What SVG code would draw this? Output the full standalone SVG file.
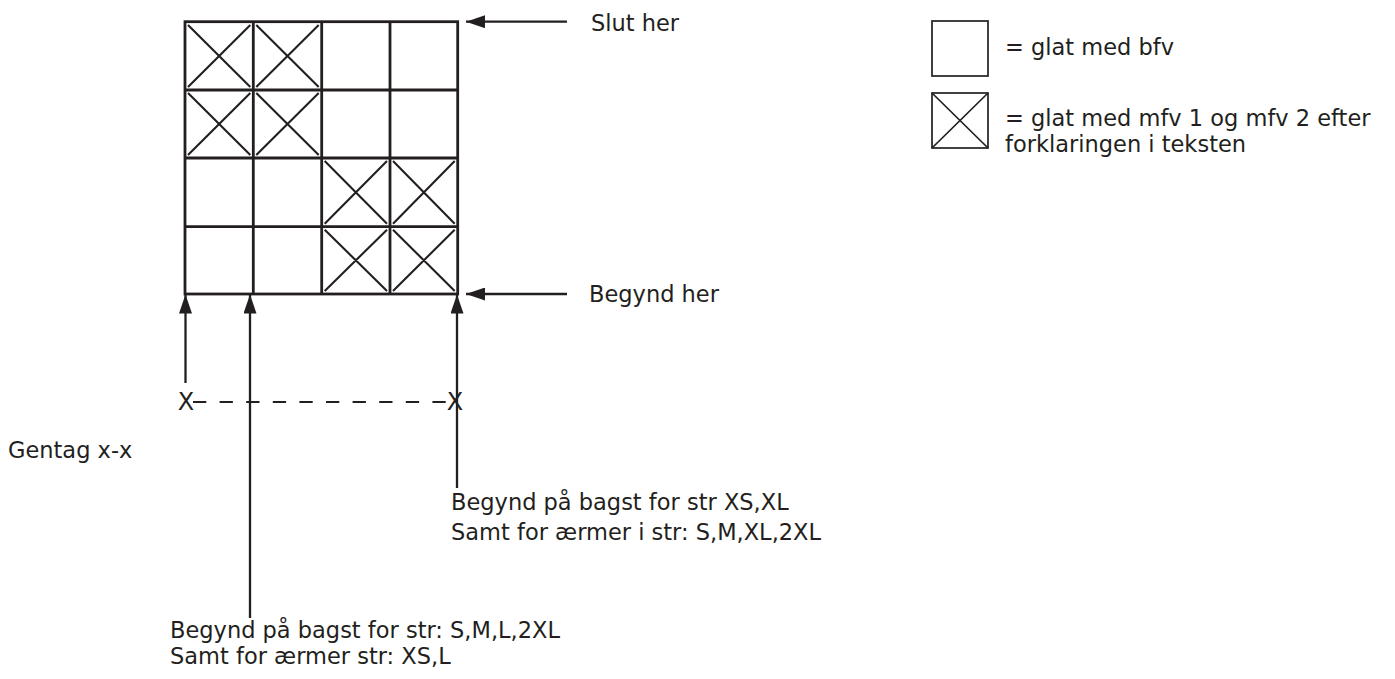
<svg xmlns="http://www.w3.org/2000/svg" width="1395" height="679" viewBox="0 0 1395 679">
<style>
.t{font-family:"DejaVu Sans",sans-serif;font-size:22.5px;fill:#231f20}
.g{stroke:#231f20;stroke-width:2.8;fill:none}
.x{stroke:#231f20;stroke-width:2.1}
.a{stroke:#231f20;stroke-width:2.3;fill:none;marker-end:url(#ah)}
.lg{stroke:#231f20;stroke-width:1.7;fill:none}
</style>
<defs>
<marker id="ah" markerUnits="userSpaceOnUse" markerWidth="19" markerHeight="13" refX="19" refY="6.5" orient="auto" viewBox="0 0 19 13">
<path d="M0,0 L19,6.5 L0,13 Z" fill="#231f20"/>
</marker>
</defs>
<rect width="1395" height="679" fill="#ffffff"/>
<g id="grid">
<rect class="g" x="185" y="21.7" width="272.7" height="272.3"/>
<line class="g" x1="253.3" y1="21.7" x2="253.3" y2="294"/>
<line class="g" x1="321.7" y1="21.7" x2="321.7" y2="294"/>
<line class="g" x1="390" y1="21.7" x2="390" y2="294"/>
<line class="g" x1="185" y1="90" x2="457.7" y2="90"/>
<line class="g" x1="185" y1="158" x2="457.7" y2="158"/>
<line class="g" x1="185" y1="226.7" x2="457.7" y2="226.7"/>
<path class="x" d="M188,25 L250.3,87 M250.3,25 L188,87 M256.3,25 L318.7,87 M318.7,25 L256.3,87 M188,93 L250.3,155 M250.3,93 L188,155 M256.3,93 L318.7,155 M318.7,93 L256.3,155 M324.7,161 L387,223.7 M387,161 L324.7,223.7 M393,161 L454.7,223.7 M454.7,161 L393,223.7 M324.7,229.7 L387,291 M387,229.7 L324.7,291 M393,229.7 L454.7,291 M454.7,229.7 L393,291"/>
</g>
<g id="connectors">
<line class="a" x1="567" y1="21.7" x2="466" y2="21.7"/>
<line class="a" x1="567" y1="294" x2="466" y2="294"/>
<line class="a" x1="185.5" y1="383" x2="185.5" y2="294.5"/>
<line class="a" x1="250" y1="618" x2="250" y2="294.5"/>
<line class="a" x1="457" y1="488" x2="457" y2="294.5"/>
<line x1="193" y1="402" x2="447" y2="402" stroke="#231f20" stroke-width="2" stroke-dasharray="13.3 13.3"/>
</g>
<g id="labels">
<text class="t" x="591" y="31">Slut her</text>
<text class="t" x="589" y="302">Begynd her</text>
<text class="t" x="186" y="410" text-anchor="middle" style="font-size:24px">X</text>
<text class="t" x="455" y="410" text-anchor="middle" style="font-size:24px">X</text>
<text class="t" x="8" y="458">Gentag x-x</text>
<text class="t" x="451" y="510">Begynd på bagst for str XS,XL</text>
<text class="t" x="451" y="540">Samt for ærmer i str: S,M,XL,2XL</text>
<text class="t" x="170" y="638">Begynd på bagst for str: S,M,L,2XL</text>
<text class="t" x="170" y="664">Samt for ærmer str: XS,L</text>
</g>
<g id="legend-plain">
<rect class="lg" x="932" y="21" width="56" height="55"/>
<text class="t" x="1005" y="55">= glat med bfv</text>
</g>
<g id="legend-cross">
<rect class="lg" x="932" y="93" width="56" height="55"/>
<path class="lg" d="M932,93 L988,148 M988,93 L932,148"/>
<text class="t" x="1005" y="126">= glat med mfv 1 og mfv 2 efter</text>
<text class="t" x="1005" y="152">forklaringen i teksten</text>
</g>
</svg>
